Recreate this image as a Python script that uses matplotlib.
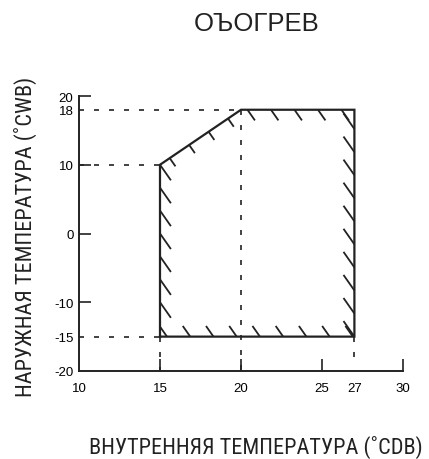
import numpy as np
import matplotlib
matplotlib.use('Agg')
import matplotlib.pyplot as plt
from matplotlib import font_manager

# данни
region_x = [15, 15, 20, 27, 27]
region_y = [-15, 10, 18, 18, -15]
x_ticks = [10, 15, 20, 25, 27, 30]
y_ticks = [-20, -15, -10, 0, 10, 18, 20]
x_tick_labels = ['10', '15', '20', '25', '27', '30']
y_tick_labels = ['-20', '-15', '-10', '0', '10', '18', '20']
title = 'ОЪОГРЕВ'
x_label = 'ВНУТРЕННЯЯ ТЕМПЕРАТУРА (˚CDB)'
y_label = 'НАРУЖНАЯ ТЕМПЕРАТУРА (˚CWB)'

# търсим тесен прав шрифт, ако има
narrow_fp = None
for name in ('Liberation Sans Narrow', 'Roboto Condensed', 'Open Sans Condensed',
             'Noto Sans Condensed'):
    for f in font_manager.fontManager.ttflist:
        if f.name == name and f.style == 'normal' and f.weight in (400, 'normal', 'regular'):
            narrow_fp = font_manager.FontProperties(fname=f.fname)
            break
    if narrow_fp is not None:
        break
if narrow_fp is None:
    narrow_fp = font_manager.FontProperties(family='Liberation Sans')

plt.rcParams['font.family'] = ['Liberation Sans', 'DejaVu Sans']

fig = plt.figure(figsize=(4.29, 4.60), dpi=100)
ax = fig.add_axes([79 / 429, 88 / 460, 324 / 429, 275 / 460])
ax.set_xlim(10, 30)
ax.set_ylim(-20, 20)
ax.patch.set_alpha(0)
for s in ['top', 'right']:
    ax.spines[s].set_visible(False)
for s in ['left', 'bottom']:
    ax.spines[s].set_linewidth(1.4)
    ax.spines[s].set_color('#222222')

ax.set_xticks(x_ticks)
ax.set_xticklabels(x_tick_labels, fontsize=9.5)
ax.set_yticks(y_ticks)
ax.set_yticklabels(y_tick_labels, fontsize=9.5)
ax.tick_params(axis='x', direction='in', length=8.5, width=1.2, pad=8, color='#222222')
ax.tick_params(axis='y', direction='in', length=8.5, width=1.2, pad=4, color='#222222')
# без черта там, където има пунктир
for t, v in zip(ax.xaxis.get_major_ticks(), x_ticks):
    if v in (10, 27):
        t.tick1line.set_visible(False)
for t, v in zip(ax.yaxis.get_major_ticks(), y_ticks):
    if v in (-20, 18, -15):
        t.tick1line.set_visible(False)

dash = (0, (3, 6))
dk = dict(color='#222222', lw=1.2, linestyle=dash)
# хоризонтални пунктири
ax.plot([10, region_x[2]], [region_y[2], region_y[2]], **dk)
ax.plot([10, region_x[1]], [region_y[1], region_y[1]], **dk)
ax.plot([10, region_x[0]], [region_y[0], region_y[0]], **dk)
# вертикални пунктири
ax.plot([region_x[0], region_x[0]], [region_y[0], -20], **dk)
ax.plot([region_x[2], region_x[2]], [region_y[2], -20], **dk)
ax.plot([region_x[4], region_x[4]], [region_y[4], -19], **dk)

# контур
px = region_x + [region_x[0]]
py = region_y + [region_y[0]]
ax.plot(px, py, color='#222222', lw=1.6, solid_joinstyle='miter')

# щриховка по ръбовете: (от, до, t0, t1, брой, дължина px, посока)
edges = [
    (1, 0, 0.0, 0.8, 7, 19, 1),       # ляв ръб
    (0, 4, 0.036, 0.992, 9, 13, -1),  # долен
    (3, 4, 0.085, 1.0, 10, 19, -1),   # десен
    (2, 3, 0.057, 0.886, 5, 13, 1),   # горен
    (1, 2, 0.12, 0.84, 4, 10, 1),     # наклонен
]
ang = np.deg2rad(-55)
d = np.array([np.cos(ang), np.sin(ang)])
for i0, i1, t0, t1, n, L, sgn in edges:
    p0 = np.array([region_x[i0], region_y[i0]], float)
    p1 = np.array([region_x[i1], region_y[i1]], float)
    for t in np.linspace(t0, t1, n):
        p = p0 + (p1 - p0) * t
        pd = ax.transData.transform(p)
        q = ax.transData.inverted().transform(pd + sgn * L * d)
        ax.plot([p[0], q[0]], [p[1], q[1]], color='#222222', lw=1.3,
                solid_capstyle='butt')

fig.text(257 / 429, 1 - 24 / 460, title, ha='center', va='center', fontsize=18.5,
         color='#222222')
xl = fig.text(256 / 429, 1 - 447 / 460, x_label, ha='center', va='center',
              fontproperties=narrow_fp, color='#222222')
yl = fig.text(25 / 429, 1 - 237 / 460, y_label, ha='center', va='center',
              fontproperties=narrow_fp, rotation=90, color='#222222')
xl.set_fontsize(15)
yl.set_fontsize(15)

# подгонка на размера по ширината от оригинала
r = fig.canvas.get_renderer()
w = xl.get_window_extent(r).width
xl.set_fontsize(min(17, 15 * 333 / w))
h = yl.get_window_extent(r).height
yl.set_fontsize(min(17, 15 * 320 / h))

fig.savefig('out.png', dpi=100)
